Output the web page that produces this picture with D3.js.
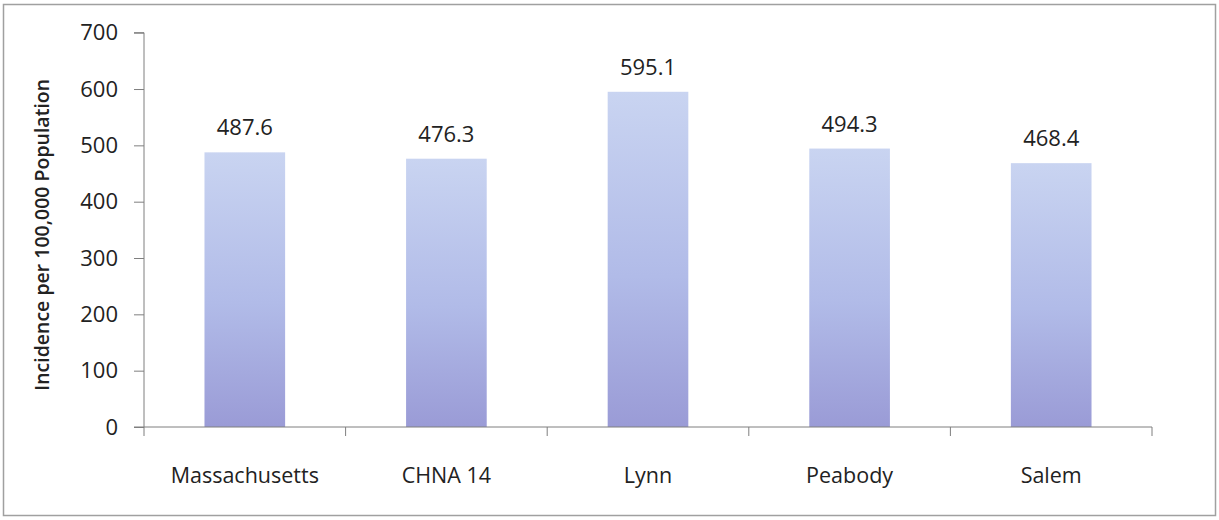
<!DOCTYPE html>
<html>
<head>
<meta charset="utf-8">
<script src="https://cdn.jsdelivr.net/npm/d3@7"></script>
<style>
  html, body { margin: 0; padding: 0; background: #fff; }
  svg text { font-family: "Open Sans", Lato, sans-serif; fill: #222; }
</style>
</head>
<body>
<svg id="chart" width="1219" height="520"></svg>
<script>
// Cancer incidence per 100,000 population by area
const categories = ["Massachusetts", "CHNA 14", "Lynn", "Peabody", "Salem"];
const values = [487.6, 476.3, 595.1, 494.3, 468.4];
const yTicks = [0, 100, 200, 300, 400, 500, 600, 700];
const yTitle = "Incidence per 100,000 Population";

const svg = d3.select("#chart");
const plot = { left: 144, right: 1152, top: 32.7, bottom: 427 };

// outer frame
svg.append("rect")
  .attr("x", 3.5).attr("y", 4.5)
  .attr("width", 1212).attr("height", 511)
  .attr("fill", "none").attr("stroke", "#a0a0a0").attr("stroke-width", 1.5);

const x = d3.scaleBand().domain(categories)
  .range([plot.left, plot.right]).paddingInner(0.6).paddingOuter(0.3);
const y = d3.scaleLinear().domain([0, 700]).range([plot.bottom, plot.top]);

// vertical gradient for the bars
const defs = svg.append("defs");
const grad = defs.append("linearGradient").attr("id", "barGrad")
  .attr("x1", 0).attr("y1", 0).attr("x2", 0).attr("y2", 1);
grad.append("stop").attr("offset", "0%").attr("stop-color", "#c9d4f1");
grad.append("stop").attr("offset", "55%").attr("stop-color", "#b1bbe8");
grad.append("stop").attr("offset", "100%").attr("stop-color", "#9a9bd6");

svg.append("g").selectAll("rect").data(categories).join("rect")
  .attr("x", d => x(d))
  .attr("y", (d, i) => y(values[i]))
  .attr("width", x.bandwidth())
  .attr("height", (d, i) => y(0) - y(values[i]))
  .attr("fill", "url(#barGrad)");

// value labels
svg.append("g").selectAll("text").data(categories).join("text")
  .attr("x", d => x(d) + x.bandwidth() / 2)
  .attr("y", (d, i) => y(values[i]) - 17)
  .attr("text-anchor", "middle")
  .style("font-size", "22px")
  .text((d, i) => values[i].toFixed(1));

// y axis
const yAxis = svg.append("g").attr("transform", `translate(${plot.left},0)`)
  .call(d3.axisLeft(y).tickValues(yTicks).tickSize(10).tickPadding(16).tickFormat(d3.format("d")));
yAxis.selectAll("path, line").attr("stroke", "#7f7f7f");
yAxis.select(".domain").attr("d", `M-10,${y(700)}H0V${y(0)}H-10`);
yAxis.selectAll("text").style("font-size", "22px").attr("fill", "#222");

// x axis: tick marks at category boundaries
const xAxisG = svg.append("g");
xAxisG.append("line")
  .attr("x1", plot.left).attr("x2", plot.right)
  .attr("y1", y(0)).attr("y2", y(0))
  .attr("stroke", "#7f7f7f");
const bounds = d3.range(categories.length + 1).map(i => plot.left + i * (plot.right - plot.left) / categories.length);
xAxisG.selectAll("line.tick").data(bounds).join("line")
  .attr("class", "tick")
  .attr("x1", d => d).attr("x2", d => d)
  .attr("y1", y(0)).attr("y2", y(0) + 9)
  .attr("stroke", "#7f7f7f");
xAxisG.selectAll("text").data(categories).join("text")
  .attr("x", d => x(d) + x.bandwidth() / 2)
  .attr("y", 483)
  .attr("text-anchor", "middle")
  .style("font-size", "21.5px")
  .text(d => d);

// y axis title
svg.append("text")
  .attr("transform", `translate(49,${(plot.top + plot.bottom) / 2 + 5}) rotate(-90)`)
  .attr("text-anchor", "middle")
  .style("font-size", "19.5px")
  .style("font-weight", "600")
  .text(yTitle);
</script>
</body>
</html>
